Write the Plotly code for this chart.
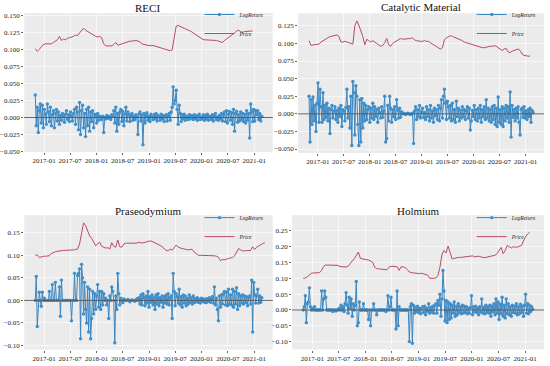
import pandas as pd
import plotly.graph_objects as go
from plotly.subplots import make_subplots

# ---------------- data ----------------
lr_dates = pd.date_range("2016-10-31", periods=226, freq="7D")
price_dates = pd.date_range("2016-10-31", periods=115, freq="14D")

titles = ["RECI", "Catalytic Material", "Praseodymium", "Holmium"]

reci_price = [
    0.101, 0.097, 0.100, 0.104, 0.107, 0.108, 0.108, 0.109, 0.108, 0.110,
    0.112, 0.114, 0.119, 0.113, 0.115, 0.114, 0.116, 0.117, 0.117, 0.119,
    0.121, 0.120, 0.124, 0.128, 0.131, 0.128, 0.126, 0.124, 0.122, 0.120,
    0.119, 0.118, 0.119, 0.117, 0.108, 0.105, 0.105, 0.106, 0.105, 0.107,
    0.110, 0.106, 0.107, 0.108, 0.109, 0.111, 0.111, 0.112, 0.112, 0.113,
    0.113, 0.112, 0.111, 0.108, 0.107, 0.106, 0.106, 0.105, 0.106, 0.105,
    0.104, 0.104, 0.103, 0.102, 0.101, 0.100, 0.099, 0.098, 0.099, 0.118,
    0.134, 0.135, 0.133, 0.132, 0.131, 0.129, 0.128, 0.127, 0.125, 0.123,
    0.121, 0.118, 0.116, 0.115, 0.114, 0.114, 0.114, 0.114, 0.113, 0.113,
    0.113, 0.112, 0.111, 0.110, 0.113, 0.115, 0.117, 0.119, 0.121, 0.124,
    0.127, 0.128, 0.126, 0.125, 0.126, 0.126, 0.126, 0.127, 0.127, None,
    None, None, None, None, None,
]
catalytic_price = [
    0.104, 0.097, 0.098, 0.098, 0.098, 0.099, 0.102, 0.104, 0.106, 0.107,
    0.109, 0.110, 0.111, 0.111, 0.112, 0.110, 0.102, 0.102, 0.103, 0.102,
    0.101, 0.100, 0.099, 0.125, 0.132, 0.126, 0.118, 0.110, 0.098, 0.106,
    0.104, 0.102, 0.104, 0.102, 0.100, 0.097, 0.096, 0.097, 0.101, 0.107,
    0.098, 0.096, 0.100, 0.102, 0.104, 0.106, 0.107, 0.106, 0.106, 0.106,
    0.106, 0.107, 0.108, 0.105, 0.104, 0.103, 0.103, 0.103, 0.104, 0.103,
    0.103, 0.101, 0.099, 0.097, 0.095, 0.093, 0.092, 0.094, 0.105, 0.108,
    0.109, 0.111, 0.110, 0.109, 0.108, 0.107, 0.105, 0.104, 0.102, 0.101,
    0.100, 0.099, 0.098, 0.097, 0.096, 0.096, 0.095, 0.094, 0.094, 0.095,
    0.095, 0.096, 0.096, 0.097, 0.096, 0.094, 0.092, 0.090, 0.092, 0.093,
    0.088, 0.087, 0.089, 0.090, 0.091, 0.092, 0.090, 0.085, 0.083, 0.082,
    0.082, 0.082, None, None, None,
]
praseodymium_price = [
    0.100, 0.101, 0.095, 0.097, 0.098, 0.098, 0.098, 0.099, 0.104, 0.107,
    0.108, 0.109, 0.110, 0.111, 0.111, 0.111, 0.111, 0.111, 0.111, 0.112,
    0.113, 0.114, 0.125, 0.150, 0.172, 0.166, 0.152, 0.143, 0.138, 0.130,
    0.121, 0.126, 0.129, 0.120, 0.117, 0.116, 0.117, 0.114, 0.128, 0.120,
    0.118, 0.134, 0.119, 0.118, 0.125, 0.127, 0.127, 0.127, 0.126, 0.126,
    0.127, 0.128, 0.129, 0.127, 0.128, 0.129, 0.131, 0.132, 0.131, 0.129,
    0.127, 0.125, 0.122, 0.119, 0.114, 0.111, 0.110, 0.114, 0.111, 0.116,
    0.123, 0.118, 0.116, 0.115, 0.114, 0.113, 0.112, 0.113, 0.113, 0.107,
    0.103, 0.100, 0.100, 0.100, 0.100, 0.100, 0.100, 0.100, 0.100, 0.099,
    0.098, 0.096, 0.088, 0.091, 0.090, 0.092, 0.093, 0.094, 0.095, 0.099,
    0.106, 0.115, 0.112, 0.110, 0.110, 0.110, 0.111, 0.111, 0.119, 0.113,
    0.118, 0.121, 0.124, 0.126, 0.128,
]
holmium_price = [
    0.100, 0.101, 0.105, 0.110, 0.116, 0.117, 0.117, 0.117, 0.118, 0.125,
    0.138, 0.142, 0.142, 0.142, 0.142, 0.142, 0.142, 0.141, 0.137, 0.136,
    0.136, 0.136, 0.138, 0.148, 0.155, 0.162, 0.172, 0.183, 0.163, 0.161,
    0.160, 0.159, 0.158, 0.155, 0.151, 0.135, 0.131, 0.130, 0.129, 0.128,
    0.126, 0.127, 0.135, 0.138, 0.138, 0.138, 0.137, 0.125, 0.137, 0.136,
    0.134, 0.128, 0.120, 0.118, 0.117, 0.115, 0.114, 0.115, 0.116, 0.114,
    0.112, 0.110, 0.100, 0.099, 0.100, 0.101, 0.108, 0.135, 0.175, 0.188,
    0.180, 0.202, 0.178, 0.161, 0.163, 0.165, 0.166, 0.166, 0.167, 0.168,
    0.168, 0.169, 0.170, 0.171, 0.168, 0.169, 0.170, 0.168, 0.166, 0.165,
    0.167, 0.168, 0.169, 0.171, 0.173, 0.178, 0.188, 0.198, 0.178, 0.188,
    0.204, 0.199, 0.196, 0.200, 0.198, 0.199, 0.201, 0.204, 0.218, 0.232,
    0.240, 0.246, None, None, None,
]

reci_lr = [
    0.033, -0.012, 0.015, -0.022, 0.010, 0.020, -0.008, 0.018, -0.015, 0.012, 0.005, -0.010, 0.020,
    0.008, -0.006, 0.015, -0.012, 0.004, 0.010, -0.015, 0.006, 0.012, -0.005, 0.008, -0.010, 0.003,
    -0.004, 0.006, 0.002, -0.007, 0.005, 0.010, -0.003, 0.004, -0.006, 0.008, 0.002, -0.005, 0.006,
    0.012, -0.010, 0.015, 0.008, -0.018, 0.022, -0.025, 0.010, 0.018, -0.015, 0.006, -0.028, 0.012,
    -0.012, 0.015, -0.020, 0.008, -0.006, 0.010, -0.015, 0.005, 0.003, -0.008, 0.006, -0.004, 0.002,
    0.001, -0.003, 0.002, -0.022, 0.000, -0.002, 0.003, -0.001, 0.002, 0.000, -0.003, 0.004, 0.002,
    0.010, -0.008, 0.015, -0.020, 0.006, -0.010, 0.008, 0.012, -0.006, 0.009, -0.012, 0.005, 0.015,
    -0.005, 0.008, 0.004, -0.006, 0.003, 0.006, -0.004, 0.002, -0.003, 0.004, 0.001, -0.025, 0.005,
    0.008, -0.005, 0.004, -0.040, 0.006, -0.008, 0.003, 0.007, -0.004, 0.002, -0.006, 0.005, 0.001,
    -0.003, 0.004, -0.002, 0.006, -0.005, 0.003, 0.001, -0.004, 0.005, -0.002, 0.003, -0.006, 0.002,
    0.004, -0.005, 0.003, 0.006, -0.004, 0.008, 0.015, 0.045, 0.020, 0.025, 0.040, 0.012, -0.010,
    0.018, 0.006, -0.006, 0.004, -0.002, 0.005, -0.004, 0.002, 0.000, -0.003, 0.004, -0.002, 0.003,
    0.002, -0.003, 0.004, -0.001, 0.003, -0.004, 0.002, 0.005, -0.003, 0.001, -0.002, 0.004, -0.004,
    0.003, -0.002, 0.005, -0.004, 0.002, 0.001, -0.003, 0.004, -0.005, 0.002, 0.006, -0.003, 0.001,
    -0.004, 0.003, -0.002, 0.006, -0.005, 0.004, 0.008, -0.006, 0.010, -0.008, 0.005, 0.009, -0.004,
    0.007, -0.010, 0.012, -0.020, 0.006, 0.009, -0.007, 0.004, -0.005, 0.008, -0.003, 0.006, -0.006,
    0.005, -0.008, 0.010, -0.004, 0.006, -0.030, 0.020, 0.008, -0.006, 0.012, -0.005, 0.010, 0.004,
    0.010, -0.003, 0.006, -0.005, 0.002,
]
catalytic_lr = [
    0.025, -0.040, 0.020, -0.015, 0.024, -0.010, 0.012, -0.025, 0.015, 0.044, -0.012, 0.035, 0.010,
    -0.012, 0.030, -0.008, 0.012, -0.005, 0.015, -0.010, 0.008, -0.028, 0.006, 0.012, -0.006, 0.004,
    0.010, -0.008, 0.005, -0.012, 0.008, -0.004, 0.012, -0.018, 0.006, 0.004, -0.010, 0.009, 0.035,
    -0.006, 0.010, -0.020, 0.025, -0.045, 0.046, 0.030, -0.030, 0.040, 0.025, -0.015, -0.045, 0.020,
    -0.040, 0.022, -0.020, 0.015, -0.010, 0.012, -0.008, 0.006, 0.010, -0.012, 0.008, -0.006, 0.015,
    -0.008, 0.010, -0.004, 0.006, -0.012, 0.008, 0.002, -0.006, 0.010, -0.005, 0.004, 0.025, -0.040,
    -0.035, 0.012, -0.010, 0.025, 0.008, -0.012, 0.006, -0.004, 0.010, -0.008, 0.020, 0.005, -0.006,
    0.008, -0.005, 0.003, 0.000, 0.001, 0.000, -0.001, 0.000, 0.001, 0.000, 0.000, -0.001, 0.000,
    0.001, -0.042, 0.004, 0.010, -0.008, 0.006, -0.004, 0.012, -0.006, 0.003, 0.008, -0.005, 0.002,
    -0.008, 0.010, -0.004, 0.006, -0.010, 0.012, -0.006, 0.004, -0.012, 0.008, -0.003, 0.006, -0.008,
    0.012, -0.010, 0.008, 0.020, -0.006, 0.025, 0.035, 0.015, -0.008, 0.018, 0.010, -0.006, 0.012,
    -0.010, 0.015, -0.008, 0.006, -0.012, 0.018, -0.004, 0.008, -0.010, 0.005, -0.006, 0.010, -0.004,
    0.006, -0.008, 0.004, 0.010, -0.006, 0.008, -0.023, -0.010, 0.005, -0.004, 0.012, -0.008, 0.006,
    -0.010, 0.008, -0.006, 0.012, -0.012, 0.006, -0.004, 0.010, -0.008, 0.020, -0.006, 0.008, -0.010,
    0.006, -0.012, 0.010, -0.008, 0.012, -0.015, 0.008, -0.018, 0.024, -0.012, 0.006, -0.015, 0.010,
    -0.018, 0.008, -0.010, 0.012, -0.006, 0.010, -0.012, 0.031, -0.033, 0.012, -0.005, 0.006, -0.010,
    0.008, -0.006, 0.010, -0.012, -0.030, 0.006, 0.008, -0.005, 0.010, -0.006, 0.004, -0.008, 0.006,
    -0.004, 0.008, -0.012, 0.005, 0.002,
]
praseodymium_lr = [
    0.000, 0.053, -0.058, 0.000, 0.018, 0.000, -0.013, 0.018, 0.000, 0.005, 0.000, 0.000, 0.000,
    0.000, 0.020, 0.000, 0.000, 0.035, 0.000, 0.000, 0.040, 0.000, 0.000, 0.000, 0.030, -0.035,
    0.045, 0.000, 0.000, 0.000, 0.000, 0.000, 0.000, 0.000, 0.000, 0.000, -0.045, 0.000, 0.000,
    0.060, 0.000, 0.000, 0.055, 0.060, 0.070, -0.085, 0.080, 0.050, -0.030, 0.040, -0.020, -0.050,
    0.030, -0.070, 0.025, -0.085, -0.040, 0.020, -0.030, 0.015, -0.020, 0.010, 0.035, -0.015, 0.020,
    -0.020, 0.020, -0.010, 0.015, 0.000, 0.005, -0.010, 0.000, -0.040, 0.010, 0.000, 0.030, 0.020,
    0.000, -0.094, 0.010, -0.020, 0.060, 0.015, -0.010, 0.005, 0.000, -0.005, 0.003, 0.000, 0.000,
    0.000, 0.002, 0.000, -0.003, 0.000, 0.001, 0.000, 0.000, -0.002, 0.000, 0.004, 0.000, 0.006,
    -0.008, 0.012, -0.010, 0.015, 0.006, -0.012, 0.010, -0.006, 0.020, -0.015, 0.008, -0.004, 0.012,
    -0.010, 0.006, -0.020, 0.012, -0.008, 0.015, -0.012, 0.006, -0.004, 0.010, -0.015, 0.008, -0.006,
    0.012, -0.008, 0.015, -0.010, 0.006, 0.010, -0.040, 0.060, 0.020, -0.012, 0.015, 0.008, -0.006,
    0.025, -0.010, 0.008, -0.015, 0.012, -0.006, 0.010, -0.012, 0.005, -0.008, 0.012, -0.004, 0.006,
    -0.008, 0.010, -0.005, 0.004, -0.003, 0.006, -0.004, 0.002, -0.006, 0.005, -0.002, 0.003, -0.004,
    0.003, -0.005, 0.004, -0.002, 0.006, -0.004, 0.002, 0.008, -0.006, 0.030, -0.010, 0.005, -0.020,
    -0.045, 0.010, -0.015, 0.012, -0.008, 0.015, 0.020, -0.010, 0.018, -0.012, 0.025, -0.008, 0.012,
    -0.010, 0.025, -0.015, 0.020, -0.008, 0.028, -0.020, 0.015, -0.012, 0.010, -0.006, 0.012, -0.008,
    0.010, -0.005, 0.008, -0.012, 0.006, 0.010, -0.008, 0.045, -0.070, 0.040, 0.012, -0.006, 0.010,
    0.025, -0.006, 0.010, -0.004, 0.006,
]
holmium_lr = [
    0.000, 0.010, 0.045, -0.040, 0.020, 0.025, 0.070, 0.010, 0.000, 0.005, 0.000, 0.010, 0.000,
    0.000, 0.000, 0.000, 0.000, 0.000, 0.060, 0.000, 0.035, 0.060, 0.040, 0.000, 0.000, 0.000,
    0.000, 0.000, 0.000, -0.005, 0.000, 0.000, -0.003, 0.000, 0.000, 0.005, 0.000, 0.015, 0.000,
    0.010, -0.005, 0.020, 0.055, 0.015, -0.010, 0.040, 0.005, 0.035, -0.020, 0.020, 0.000, 0.015,
    0.090, -0.050, -0.040, 0.025, 0.000, 0.000, 0.000, 0.020, 0.000, 0.000, 0.000, 0.000, -0.030,
    0.000, -0.050, 0.000, 0.000, 0.020, 0.000, 0.000, -0.015, 0.000, 0.000, 0.000, 0.000, 0.000,
    0.000, 0.000, 0.000, -0.005, 0.000, 0.045, 0.000, 0.010, 0.040, 0.000, 0.000, 0.000, 0.000,
    -0.060, 0.060, -0.050, 0.010, 0.000, 0.000, 0.000, 0.000, 0.000, 0.000, 0.000, 0.000, 0.000,
    -0.100, 0.010, 0.020, -0.105, 0.015, -0.010, 0.008, -0.005, 0.012, -0.008, 0.005, -0.012, 0.006,
    0.010, -0.008, 0.012, -0.015, 0.006, -0.004, 0.020, -0.010, 0.008, -0.006, 0.012, -0.010, 0.015,
    0.020, -0.010, 0.030, 0.015, 0.050, -0.020, 0.035, 0.125, 0.060, -0.035, 0.030, -0.040, 0.025,
    -0.030, 0.020, -0.025, 0.015, -0.010, 0.025, -0.020, 0.012, -0.015, 0.020, -0.008, 0.010, -0.012,
    0.015, -0.010, 0.012, -0.008, 0.010, -0.012, 0.006, -0.010, 0.008, 0.045, -0.015, 0.010, -0.006,
    0.012, -0.008, 0.006, -0.015, 0.010, -0.006, 0.035, -0.010, 0.008, -0.012, 0.015, -0.008, 0.010,
    -0.010, 0.015, -0.020, 0.012, -0.006, 0.020, -0.015, 0.035, -0.010, 0.025, -0.030, 0.018, -0.012,
    0.040, -0.020, 0.015, -0.025, 0.035, -0.012, 0.020, -0.015, 0.010, -0.020, 0.015, -0.008, 0.012,
    -0.010, 0.020, -0.015, 0.010, -0.012, 0.018, -0.008, 0.012, -0.020, 0.015, 0.050, -0.010, 0.020,
    -0.012, 0.015, -0.005, 0.010, 0.002,
]

prices = [reci_price, catalytic_price, praseodymium_price, holmium_price]
logrets = [reci_lr, catalytic_lr, praseodymium_lr, holmium_lr]

# ---------------- styling ----------------
BLUE_LINE = "#3a85bf"
BLUE_MARK = "#3f8fca"
RED = "#bb4a62"
FONT = "Liberation Serif"

fig = make_subplots(rows=2, cols=2)

x_domains = [[0.044, 0.496], [0.542, 0.989], [0.044, 0.496], [0.531, 0.989]]
y_domains = [[0.585, 0.964], [0.582, 0.964], [0.045, 0.412], [0.045, 0.412]]
y_ranges = [[-0.0504, 0.153], [-0.0556, 0.143], [-0.109, 0.189], [-0.125, 0.2995]]
y_dticks = [0.025, 0.025, 0.05, 0.05]
y_formats = [".3f", ".3f", ".2f", ".2f"]
legend_pos = [(0.49, 1.0), (0.985, 1.0), (0.49, 0.445), (0.985, 0.445)]
title_pos = [(0.269, 0.978), (0.765, 0.981), (0.269, 0.424), (0.76, 0.424)]

for k in range(4):
    r, c = k // 2 + 1, k % 2 + 1
    leg = "legend" if k == 0 else f"legend{k + 1}"
    fig.add_trace(go.Scatter(
        x=lr_dates, y=logrets[k], mode="lines+markers", name="LogReturn",
        line=dict(color=BLUE_LINE, width=1.0),
        marker=dict(color=BLUE_MARK, size=3.4, line=dict(width=0)),
        legend=leg,
    ), row=r, col=c)
    fig.add_trace(go.Scatter(
        x=price_dates, y=prices[k], mode="lines", name="Price",
        line=dict(color=RED, width=1.0),
        legend=leg,
    ), row=r, col=c)

    xa = "xaxis" if k == 0 else f"xaxis{k + 1}"
    ya = "yaxis" if k == 0 else f"yaxis{k + 1}"
    fig.layout[xa].update(
        domain=x_domains[k], range=["2016-08-15", "2021-05-10"],
        tick0="2017-01-01", dtick="M6", tickformat="%Y-%m", tickangle=0,
        showgrid=True, gridcolor="#f7f7f7", gridwidth=0.8,
        ticks="outside", ticklen=2, tickcolor="#666", zeroline=False,
        showline=False, tickfont=dict(family=FONT, size=7, color="#222"),
        automargin=False,
    )
    fig.layout[ya].update(
        domain=y_domains[k], range=y_ranges[k], dtick=y_dticks[k],
        tick0=0, tickformat=y_formats[k],
        showgrid=True, gridcolor="#f7f7f7", gridwidth=0.8,
        ticks="outside", ticklen=2, tickcolor="#666", zeroline=False,
        showline=False, tickfont=dict(family=FONT, size=7, color="#222"),
        automargin=False,
    )
    xref = "x" if k == 0 else f"x{k + 1}"
    yref = "y" if k == 0 else f"y{k + 1}"
    fig.add_shape(type="line", xref=f"{xref} domain", yref=yref,
                  x0=0, x1=1, y0=0, y1=0,
                  line=dict(color="#555555", width=0.9), layer="above")
    fig.add_annotation(text=titles[k], xref="paper", yref="paper",
                       x=title_pos[k][0], y=title_pos[k][1],
                       xanchor="center", yanchor="middle", showarrow=False,
                       font=dict(family=FONT, size=11, color="#111"))
    lx, ly = legend_pos[k]
    fig.layout[leg] = dict(
        x=lx, y=ly, xanchor="right", yanchor="top",
        bgcolor="rgba(0,0,0,0)", borderwidth=0,
        font=dict(family=FONT, size=5.5, color="#222", style="italic"),
        itemwidth=30, tracegroupgap=0,
    )

fig.update_layout(
    width=550, height=366,
    margin=dict(l=0, r=0, t=0, b=0, pad=0, autoexpand=False),
    paper_bgcolor="white",
    plot_bgcolor="#ebebeb",
    showlegend=True,
)

fig.write_html(
    "out.html",
    config={"displayModeBar": False},
    post_script="document.body.style.margin='0px';document.body.style.padding='0px';",
)
